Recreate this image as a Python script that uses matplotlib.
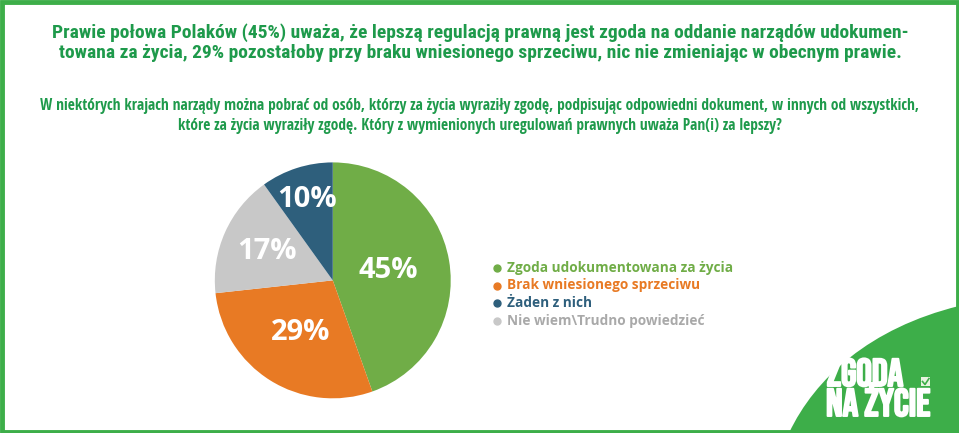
import matplotlib.pyplot as plt
import matplotlib.patheffects as pe
import numpy as np
from matplotlib.path import Path
from matplotlib.patches import PathPatch, Rectangle

# data
labels = ["Zgoda udokumentowana za życia", "Brak wniesionego sprzeciwu",
          "Nie wiem\\Trudno powiedzieć", "Żaden z nich"]
values = [45, 29, 17, 10]
colors = ["#70AD47", "#E87A24", "#C8C8C8", "#2E5F7C"]
legend_order = [0, 1, 3, 2]
label_dist = [0.48, 0.52, 0.61, 0.72]

title = ("Prawie połowa Polaków (45%) uważa, że lepszą regulacją prawną jest zgoda na oddanie narządów udokumen-\n"
         "towana za życia, 29% pozostałoby przy braku wniesionego sprzeciwu, nic nie zmieniając w obecnym prawie.")
question = ("W niektórych krajach narządy można pobrać od osób, którzy za życia wyraziły zgodę, podpisując odpowiedni dokument, w innych od wszystkich,\n"
            "które za życia wyraziły zgodę. Który z wymienionych uregulowań prawnych uważa Pan(i) za lepszy?")

green = "#3DAE49"
dark_green = "#1E9A4B"
cond = ["Roboto Condensed", "DejaVu Sans"]
osc = ["Open Sans Condensed", "DejaVu Sans"]
sans = ["Open Sans", "DejaVu Sans"]
logo_font = ["Bebas Neue", "Anton", "DejaVu Sans"]

fig = plt.figure(figsize=(9.59, 4.33), dpi=100)

# overlay in pixel coordinates for frame, texts and logo
bg = fig.add_axes([0, 0, 1, 1])
bg.set_xlim(0, 959)
bg.set_ylim(433, 0)
bg.axis("off")

bg.text(480, 43, title, ha="center", va="center", color=dark_green,
        fontsize=14, fontweight="bold", family=cond, linespacing=1.15)
bg.text(480, 116, question, ha="center", va="center", color=dark_green,
        fontsize=11.2, fontweight="bold", family=osc, linespacing=1.25)

# logo shape bottom right
verts = [(789, 433), (815, 378), (870, 328), (959, 306), (959, 433), (789, 433)]
codes = [Path.MOVETO, Path.CURVE4, Path.CURVE4, Path.CURVE4, Path.LINETO, Path.CLOSEPOLY]
bg.add_patch(PathPatch(Path(verts, codes), facecolor=green, edgecolor="none"))
thick = [pe.withStroke(linewidth=1.4, foreground="white")]
bg.text(827, 386, "ZGODA", color="white", fontsize=28,
        family=logo_font, va="baseline", ha="left", path_effects=thick)
bg.text(826, 416, "NA ŻYCIE", color="white", fontsize=28,
        family=logo_font, va="baseline", ha="left", path_effects=thick)
bg.add_patch(Rectangle((921, 377), 9, 9, facecolor="#E8F3E0", edgecolor="none"))
bg.plot([922.5, 925, 929], [381.5, 384.5, 378.5], color=green, lw=1.2)

# frame
bg.add_patch(Rectangle((1.5, 1.5), 956, 430, facecolor="none", edgecolor=green, lw=3.5))

# pie
ax = fig.add_axes([0.224, 0.080, 0.246, 0.545])
wedges, _ = ax.pie(values, colors=colors, startangle=90, counterclock=False,
                   radius=1.0)
for w, v, d in zip(wedges, values, label_dist):
    mid = np.deg2rad((w.theta1 + w.theta2) / 2)
    ax.text(d * np.cos(mid), d * np.sin(mid), f"{v}%", ha="center", va="center",
            color="white", fontsize=21, fontweight="bold", family=sans)
ax.set_xlim(-1, 1)
ax.set_ylim(-1, 1)
ax.set_aspect("equal")

# legend
for i, idx in enumerate(legend_order):
    y = 268 + i * 17.5
    bg.plot(497, y, "o", color=colors[idx], ms=5)
    bg.text(507, y, labels[idx], color=colors[idx] if idx != 2 else "#A9A9A9",
            fontsize=9.8, fontweight="bold", family=sans, va="center", ha="left")

fig.savefig("out.png", dpi=100)
